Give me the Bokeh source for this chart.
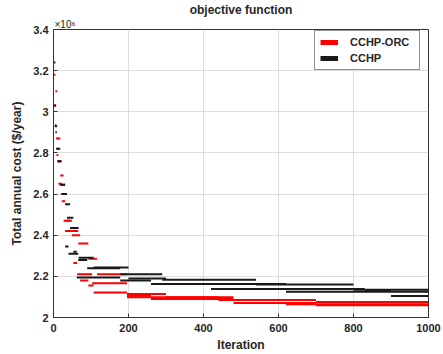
from bokeh.plotting import figure
from bokeh.models import (ColumnDataSource, FixedTicker, Range1d, Legend, Title,
                          LegendItem, CustomJSTickFormatter)
from bokeh.embed import file_html
from bokeh.resources import INLINE

# ---- data (values in units of 10^6 $/year) ----
# Each run: iterations at which the best value changes, and the value held from there
red_run1_iter = [1, 5, 10, 18, 27, 44, 66, 93, 116, 196, 300, 480, 700, 1000]
red_run1_val = [3.18, 3.10, 2.87, 2.69, 2.47, 2.42, 2.36, 2.285, 2.21, 2.114, 2.098, 2.085, 2.075, 2.075]
red_run2_iter = [1, 4, 8, 13, 22, 31, 53, 63, 103, 196, 260, 480, 700, 1000]
red_run2_val = [3.03, 2.935, 2.79, 2.65, 2.565, 2.42, 2.265, 2.21, 2.166, 2.106, 2.09, 2.07, 2.06, 2.06]
red_run3_iter = [2, 7, 12, 20, 33, 49, 71, 93, 107, 196, 440, 620, 1000]
red_run3_val = [3.03, 2.87, 2.76, 2.60, 2.47, 2.40, 2.18, 2.155, 2.122, 2.098, 2.085, 2.065, 2.065]

black_run1_iter = [1, 5, 9, 18, 31, 40, 66, 90, 178, 290, 540, 800, 1000]
black_run1_val = [3.24, 2.90, 2.82, 2.645, 2.345, 2.31, 2.28, 2.24, 2.21, 2.183, 2.16, 2.135, 2.135]
black_run2_iter = [2, 7, 13, 22, 36, 53, 62, 178, 260, 420, 830, 900, 1000]
black_run2_val = [3.03, 2.82, 2.76, 2.60, 2.485, 2.32, 2.195, 2.18, 2.163, 2.139, 2.13, 2.105, 2.105]
black_run3_iter = [3, 10, 18, 31, 44, 67, 107, 200, 300, 620, 1000]
black_run3_val = [2.93, 2.76, 2.645, 2.55, 2.435, 2.29, 2.243, 2.19, 2.163, 2.125, 2.125]

series_names = ["CCHP-ORC", "CCHP"]
x_ticks = [0, 200, 400, 600, 800, 1000]
y_ticks = [2.0, 2.2, 2.4, 2.6, 2.8, 3.0, 3.2, 3.4]


def plateaus(runs):
    x0, x1, y = [], [], []
    for it, val in runs:
        for i in range(len(it) - 1):
            x0.append(it[i]); x1.append(it[i + 1]); y.append(val[i])
    return ColumnDataSource(dict(x0=x0, x1=x1, y=y))


red_src = plateaus([(red_run1_iter, red_run1_val), (red_run2_iter, red_run2_val),
                    (red_run3_iter, red_run3_val)])
black_src = plateaus([(black_run1_iter, black_run1_val), (black_run2_iter, black_run2_val),
                      (black_run3_iter, black_run3_val)])

FONT = "Liberation Sans"
TXT = "#262626"

p = figure(width=443, height=354, output_backend="svg", toolbar_location=None,
           x_range=Range1d(0, 1000), y_range=Range1d(2.0, 3.4),
           min_border_left=53, min_border_right=15, min_border_top=27, min_border_bottom=37)

# outer title
p.title.text = "objective function"
p.title.align = "center"
p.title.text_font = FONT
p.title.text_font_size = "12px"
p.title.text_font_style = "bold"
p.title.text_color = TXT
p.title.text_line_height = 0.9
p.title.standoff = 0

# inner title: the axis multiplier
p.add_layout(Title(text="×10⁶", align="left", offset=1, text_font=FONT,
                   text_font_size="10px", text_font_style="normal", text_color=TXT,
                   text_line_height=0.9, standoff=0), "above")

p.outline_line_color = "#333333"
p.outline_line_width = 1
p.background_fill_color = "white"
p.border_fill_color = "white"

for ax in (p.xaxis[0], p.yaxis[0]):
    ax.major_label_text_font = FONT
    ax.major_label_text_font_size = "11px"
    ax.major_label_text_font_style = "bold"
    ax.major_label_text_color = TXT
    ax.axis_label_text_font = FONT
    ax.axis_label_text_font_size = "12px"
    ax.axis_label_text_font_style = "bold"
    ax.axis_label_text_color = TXT
    ax.major_tick_in = 4
    ax.major_tick_out = 0
    ax.minor_tick_line_color = None
    ax.axis_line_color = "#333333"
    ax.major_tick_line_color = "#333333"

p.xaxis.ticker = FixedTicker(ticks=x_ticks)
p.yaxis.ticker = FixedTicker(ticks=y_ticks)
p.yaxis.formatter = CustomJSTickFormatter(code="return (Math.round(tick*10)/10).toString();")
p.xaxis.axis_label = "Iteration"
p.yaxis.axis_label = "Total annual cost ($/year)"
p.xaxis.axis_label_standoff = 3
p.yaxis.axis_label_standoff = 6
p.xaxis.major_label_standoff = 6
p.yaxis.major_label_standoff = 5

p.grid.grid_line_color = "#dcdcdc"
p.grid.grid_line_width = 1

r_red = p.segment(x0="x0", y0="y", x1="x1", y1="y", source=red_src,
                  line_color="#ff0000", line_width=2)
r_black = p.segment(x0="x0", y0="y", x1="x1", y1="y", source=black_src,
                    line_color="#1a1a1a", line_width=2)

# legend proxies: zero-length segments (draw nothing) with thick line style
lg_red = p.segment(x0=[red_run1_iter[0]], y0=[red_run1_val[0]],
                   x1=[red_run1_iter[0]], y1=[red_run1_val[0]],
                   line_color="#ff0000", line_width=5, line_cap="butt")
lg_black = p.segment(x0=[black_run1_iter[0]], y0=[black_run1_val[0]],
                     x1=[black_run1_iter[0]], y1=[black_run1_val[0]],
                     line_color="#1a1a1a", line_width=5, line_cap="butt")

legend = Legend(items=[LegendItem(label=series_names[0], renderers=[lg_red]),
                       LegendItem(label=series_names[1], renderers=[lg_black])],
                location=(261, 247))
legend.label_text_font = FONT
legend.label_text_font_size = "11px"
legend.label_text_font_style = "bold"
legend.label_text_color = TXT
legend.border_line_color = "#222222"
legend.border_line_width = 1
legend.glyph_width = 18
legend.glyph_height = 12
legend.label_standoff = 12
legend.label_width = 64
legend.padding = 5
legend.spacing = 4
legend.margin = 0
legend.label_height = 12
p.add_layout(legend, "center")

open("out.html", "w").write(file_html(p, INLINE))
